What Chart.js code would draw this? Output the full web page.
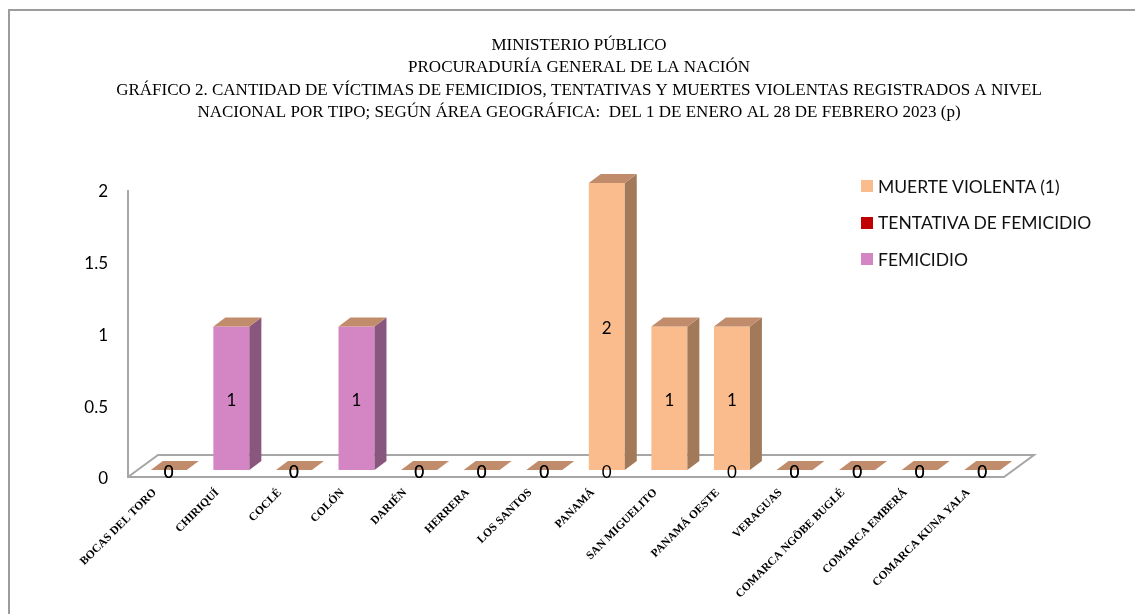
<!DOCTYPE html>
<html>
<head>
<meta charset="utf-8">
<script src="https://cdn.jsdelivr.net/npm/chart.js@4.4.0/dist/chart.umd.min.js"></script>
<style>
body{margin:0;background:#fff;}
#wrap{position:relative;width:1135px;height:614px;overflow:hidden;}
#frame{position:absolute;left:8px;top:9px;width:1200px;height:700px;border-left:2px solid #9c9c9c;border-top:2px solid #9c9c9c;}
#legend{position:absolute;left:861px;top:168px;font-family:Lato,sans-serif;font-size:17.5px;color:#111;}
.item{display:flex;align-items:center;height:36.5px;}
.box{width:12px;height:12px;margin-right:5px;}
</style>
</head>
<body>
<div id="wrap">
  <div id="frame"></div>
  <canvas id="chart" width="1135" height="614"></canvas>
  <div id="legend"></div>
</div>
<script>
// Chart data
const categories = ["BOCAS DEL TORO", "CHIRIQUÍ", "COCLÉ", "COLÓN", "DARIÉN", "HERRERA", "LOS SANTOS",
    "PANAMÁ", "SAN MIGUELITO", "PANAMÁ OESTE", "VERAGUAS", "COMARCA NGÖBE BUGLÉ", "COMARCA EMBERÁ", "COMARCA KUNA YALA"];
const femicidio = [0, 1, 0, 1, 0, 0, 0, 0, null, 0, 0, 0, 0, 0];
const tentativa = [null, null, null, null, null, null, null, null, null, null, null, null, null, null];
const muerteViolenta = [0, null, 0, null, 0, 0, 0, 2, 1, 1, 0, 0, 0, 0];
const yTicks = [0, 0.5, 1, 1.5, 2];

const titleLines = [
    "MINISTERIO PÚBLICO",
    "PROCURADURÍA GENERAL DE LA NACIÓN",
    "GRÁFICO 2. CANTIDAD DE VÍCTIMAS DE FEMICIDIOS, TENTATIVAS Y MUERTES VIOLENTAS REGISTRADOS A NIVEL",
    "NACIONAL POR TIPO; SEGÚN ÁREA GEOGRÁFICA:  DEL 1 DE ENERO AL 28 DE FEBRERO 2023 (p)"
];

const seriesStyle = [
    {label: "FEMICIDIO", data: femicidio, color: "#D486C4", side: "#89567D"},
    {label: "TENTATIVA DE FEMICIDIO", data: tentativa, color: "#C00000", side: "#7a0000"},
    {label: "MUERTE VIOLENTA (1)", data: muerteViolenta, color: "#FBBC8D", side: "#A27A5A"}
];
const topColor = "#C08C6B";
const DX = 12, DY = -9;

// floor, wall and depth faces of the bars
const depthPlugin = {
    id: "depth",
    beforeDatasetsDraw(chart) {
        const {ctx, chartArea: a} = chart;
        const w = a.right - a.left;
        const fx = a.left - 9.5, fy = a.bottom + 7;
        const bx = a.left + 20.5, by = a.bottom - 15;
        ctx.save();
        ctx.strokeStyle = "#a6a6a6";
        ctx.lineWidth = 2;
        ctx.beginPath();
        ctx.moveTo(fx, a.top + 7);
        ctx.lineTo(fx, fy);
        ctx.lineTo(fx + w, fy);
        ctx.lineTo(bx + w, by);
        ctx.lineTo(bx, by);
        ctx.lineTo(fx, fy);
        ctx.stroke();
        ctx.restore();
    },
    afterDatasetsDraw(chart) {
        const ctx = chart.ctx;
        ctx.save();
        categories.forEach((c, i) => {
            let topY = null, cx = 0, half = 0;
            chart.data.datasets.forEach((ds, d) => {
                const v = ds.data[i];
                if (v === null) return;
                const el = chart.getDatasetMeta(d).data[i];
                cx = el.x; half = el.width / 2;
                if (el.base - el.y > 0.5) {
                    ctx.fillStyle = seriesStyle[d].side;
                    ctx.beginPath();
                    ctx.moveTo(el.x + half, el.y);
                    ctx.lineTo(el.x + half + DX, el.y + DY);
                    ctx.lineTo(el.x + half + DX, el.base + DY);
                    ctx.lineTo(el.x + half, el.base);
                    ctx.closePath();
                    ctx.fill();
                }
                if (topY === null || el.y < topY) topY = el.y;
            });
            if (topY === null) return;
            ctx.fillStyle = topColor;
            ctx.beginPath();
            ctx.moveTo(cx - half, topY);
            ctx.lineTo(cx + half, topY);
            ctx.lineTo(cx + half + DX, topY + DY);
            ctx.lineTo(cx - half + DX, topY + DY);
            ctx.closePath();
            ctx.fill();
        });
        // value labels
        ctx.fillStyle = "#000";
        ctx.font = "17px Lato";
        ctx.textAlign = "center";
        ctx.textBaseline = "middle";
        chart.data.datasets.forEach((ds, d) => {
            chart.getDatasetMeta(d).data.forEach((el, i) => {
                const v = ds.data[i];
                if (v === null) return;
                const y = v > 0 ? (el.y + el.base) / 2 + 2 : el.base + 3;
                ctx.fillText(String(v), el.x, y);
            });
        });
        ctx.restore();
    }
};

new Chart(document.getElementById("chart"), {
    type: "bar",
    data: {
        labels: categories,
        datasets: seriesStyle.map(s => ({
            label: s.label,
            data: s.data,
            backgroundColor: s.color,
            categoryPercentage: 1,
            barPercentage: 0.575
        }))
    },
    options: {
        responsive: false,
        animation: false,
        layout: {padding: {left: 23, right: 0, top: 0, bottom: 0}},
        plugins: {
            legend: {display: false},
            tooltip: {enabled: false},
            title: {
                display: true,
                text: titleLines,
                color: "#000",
                font: {family: "Liberation Serif", size: 17, weight: "normal", lineHeight: 1.3235},
                padding: {top: 34, bottom: 59}
            }
        },
        scales: {
            x: {
                stacked: true,
                grid: {display: false, drawTicks: false},
                border: {display: false},
                ticks: {
                    autoSkip: false, maxRotation: 45, minRotation: 45, padding: 16, labelOffset: -14,
                    color: "#000",
                    font: {family: "Liberation Serif", size: 11.5, weight: "bold"}
                },
                afterFit: s => { s.height = 144; }
            },
            y: {
                stacked: true,
                min: 0, max: 2,
                afterBuildTicks: s => { s.ticks = yTicks.map(v => ({value: v})); },
                grid: {display: false, drawTicks: false},
                border: {display: false},
                ticks: {
                    padding: 29.5, labelOffset: 9, color: "#000",
                    font: {family: "Lato", size: 17},
                    callback: v => String(v)
                },
                afterFit: s => { s.width = 114.5; }
            },
            yRight: {
                position: "right",
                display: true,
                grid: {display: false, drawTicks: false},
                border: {display: false},
                ticks: {display: false},
                afterFit: s => { s.width = 121.5; }
            }
        }
    },
    plugins: [depthPlugin]
});

// legend, top to bottom as in the original
const legend = document.getElementById("legend");
seriesStyle.slice().reverse().forEach(s => {
    const item = document.createElement("div");
    item.className = "item";
    item.innerHTML = `<span class="box" style="background:${s.color}"></span>${s.label}`;
    legend.appendChild(item);
});
</script>
</body>
</html>
